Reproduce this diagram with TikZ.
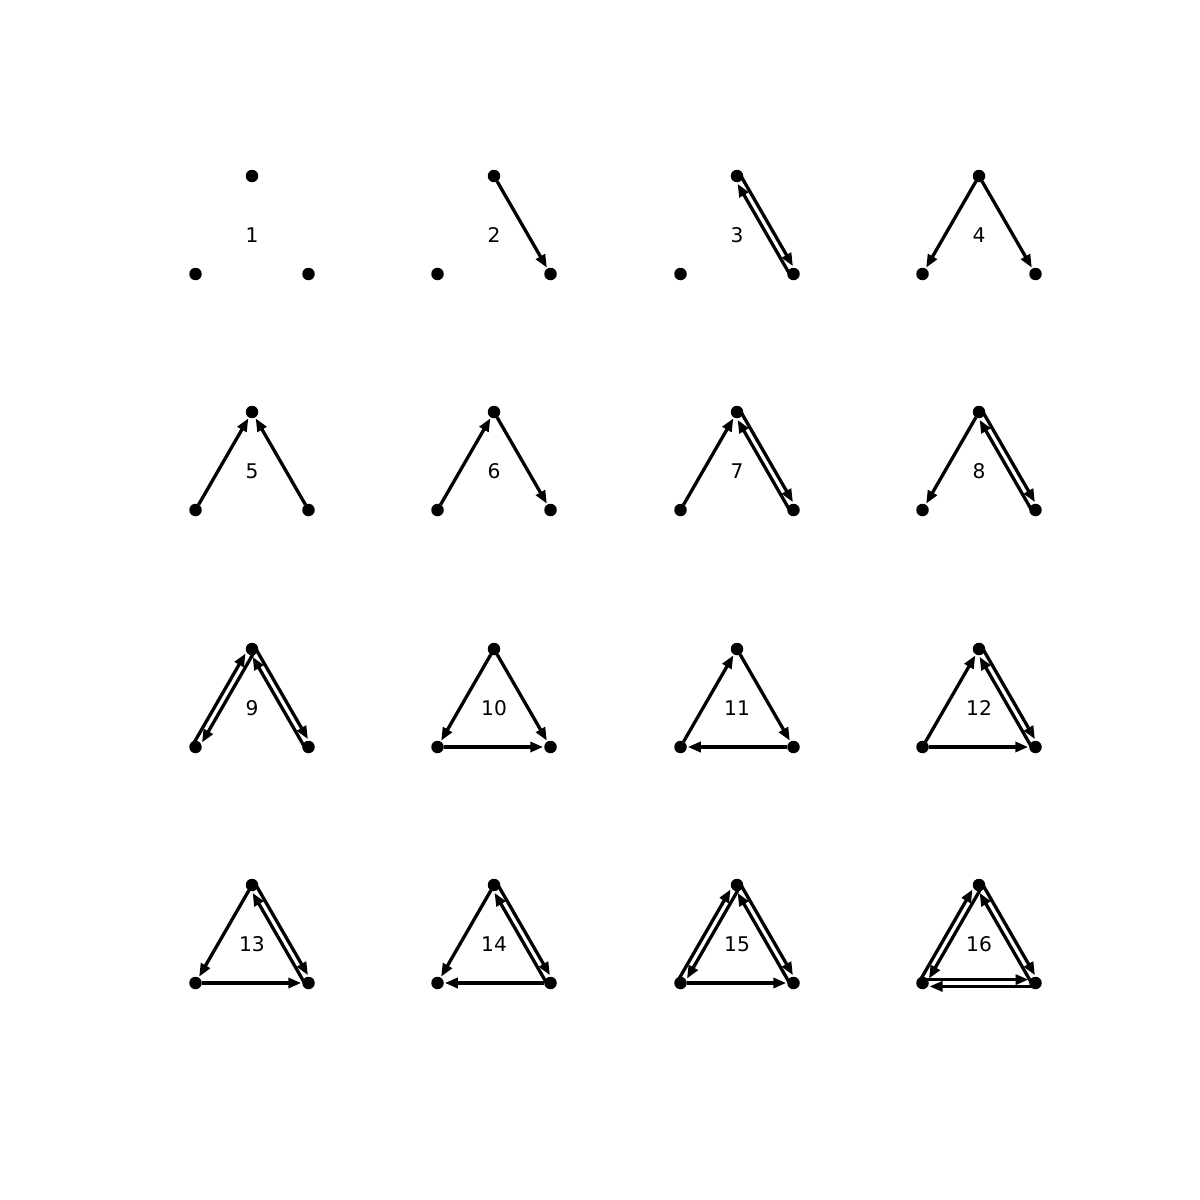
\documentclass[tikz,border=0pt]{standalone}
\usepackage{fontspec}
\setmainfont{DejaVu Sans}
\usetikzlibrary{arrows.meta,calc}
\tikzset{
  dot/.style={circle,fill=black,inner sep=0pt,minimum size=0.25cm,outer sep=0pt},
  edge/.style={line width=0.066cm,-{Triangle[length=0.26cm,width=0.2cm]},shorten >=0.02cm},
  medge/.style={line width=0.066cm,-{Triangle[length=0.26cm,width=0.2cm]},shorten >=0.14cm},
  lab/.style={font=\fontsize{11.5}{13}\selectfont,inner sep=0pt},
}
\newcommand\mytriad[4]{%
  \node[dot] (t#1a) at (#2,#3) {};
  \node[dot] (t#1b) at (#2-56.5,#3+98) {};
  \node[dot] (t#1c) at (#2+56.5,#3+98) {};
  \node[lab] (t#1l) at (#2,#3+59) {#4};
}
\newcommand\sedge[2]{\draw[edge] (#1) -- (#2);}
\newcommand\dedge[2]{%
  \draw[medge] ($(#1.center)!0.068cm!90:(#2.center)$) -- ($(#2.center)!0.068cm!-90:(#1.center)$);%
  \draw[medge] ($(#2.center)!0.068cm!90:(#1.center)$) -- ($(#1.center)!0.068cm!-90:(#2.center)$);%
}
\begin{document}
\begin{tikzpicture}[x=0.02cm,y=-0.02cm]
\useasboundingbox[fill=white] (0,0) rectangle (1200,1200);
% row 1
\mytriad{1}{252}{176}{1}
\mytriad{2}{494}{176}{2}
\sedge{t2a}{t2c}
\mytriad{3}{737}{176}{3}
\dedge{t3a}{t3c}
\mytriad{4}{979}{176}{4}
\sedge{t4a}{t4b}\sedge{t4a}{t4c}
% row 2
\mytriad{5}{252}{412}{5}
\sedge{t5b}{t5a}\sedge{t5c}{t5a}
\mytriad{6}{494}{412}{6}
\sedge{t6b}{t6a}\sedge{t6a}{t6c}
\mytriad{7}{737}{412}{7}
\sedge{t7b}{t7a}\dedge{t7a}{t7c}
\mytriad{8}{979}{412}{8}
\sedge{t8a}{t8b}\dedge{t8a}{t8c}
% row 3
\mytriad{9}{252}{649}{9}
\dedge{t9a}{t9b}\dedge{t9a}{t9c}
\mytriad{10}{494}{649}{10}
\sedge{t10a}{t10b}\sedge{t10a}{t10c}\sedge{t10b}{t10c}
\mytriad{11}{737}{649}{11}
\sedge{t11b}{t11a}\sedge{t11a}{t11c}\sedge{t11c}{t11b}
\mytriad{12}{979}{649}{12}
\sedge{t12b}{t12a}\dedge{t12a}{t12c}\sedge{t12b}{t12c}
% row 4
\mytriad{13}{252}{885}{13}
\sedge{t13a}{t13b}\dedge{t13a}{t13c}\sedge{t13b}{t13c}
\mytriad{14}{494}{885}{14}
\sedge{t14a}{t14b}\dedge{t14a}{t14c}\sedge{t14c}{t14b}
\mytriad{15}{737}{885}{15}
\dedge{t15a}{t15b}\dedge{t15a}{t15c}\sedge{t15b}{t15c}
\mytriad{16}{979}{885}{16}
\dedge{t16a}{t16b}\dedge{t16a}{t16c}\dedge{t16b}{t16c}
\end{tikzpicture}
\end{document}
